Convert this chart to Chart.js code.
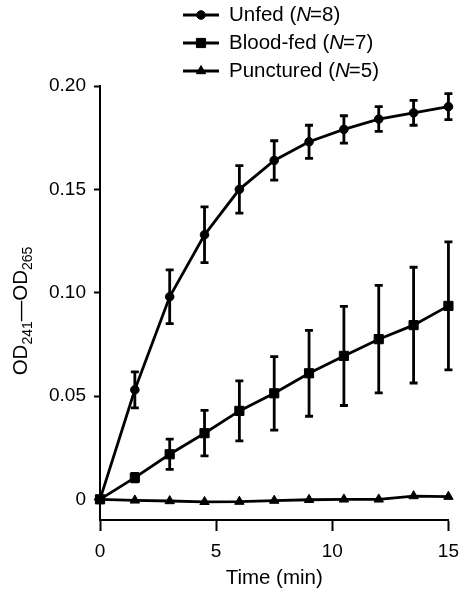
<!DOCTYPE html>
<html><head><meta charset="utf-8">
<script src="https://cdn.jsdelivr.net/npm/chart.js@4/dist/chart.umd.min.js"></script>
<style>html,body{margin:0;padding:0;background:#fff;}canvas{display:block;}</style>
</head><body>
<canvas id="c" width="468" height="594"></canvas>
<script>
const timeMin = [0, 1.5, 3, 4.5, 6, 7.5, 9, 10.5, 12, 13.5, 15];
const unfed = [0, 0.053, 0.098, 0.128, 0.150, 0.164, 0.173, 0.179, 0.184, 0.187, 0.190];
const unfedErr = [0, 0.0087, 0.013, 0.0135, 0.0115, 0.0095, 0.008, 0.0066, 0.006, 0.006, 0.0063];
const bloodFed = [0, 0.0105, 0.0218, 0.032, 0.0428, 0.0513, 0.061, 0.0694, 0.0775, 0.0843, 0.0936];
const bloodFedErr = [0, 0.002, 0.0073, 0.011, 0.0145, 0.0178, 0.0208, 0.024, 0.026, 0.028, 0.031];
const punctured = [0, -0.0005, -0.0008, -0.0012, -0.0011, -0.0006, -0.0002, 0, 0, 0.0016, 0.0013];
const seriesNames = ['Unfed', 'Blood-fed', 'Punctured'];
const seriesN = ['8', '7', '5'];
const xTicks = [0, 5, 10, 15];
const yTicks = [0, 0.05, 0.10, 0.15, 0.20];
const yTickLabels = ['0', '0.05', '0.10', '0.15', '0.20'];
const xTitle = 'Time (min)';
const yTitleParts = ['OD', '241', '\u2014', 'OD', '265'];

const FAMILY = '"Liberation Sans", Arial, Helvetica, sans-serif';
const styles = [
  {pointStyle: 'circle', radius: 4.3},
  {pointStyle: 'rect', radius: 6.5},
  {pointStyle: 'triangle', radius: 5.4}
];

const errPlugin = {
  id: 'errbars',
  afterDatasetsDraw(chart) {
    const ctx = chart.ctx, xs = chart.scales.x, ys = chart.scales.y;
    ctx.save();
    ctx.strokeStyle = '#000'; ctx.lineWidth = 2.8; ctx.lineCap = 'butt';
    [[unfed, unfedErr], [bloodFed, bloodFedErr]].forEach(([vals, errs]) => {
      vals.forEach((v, i) => {
        const e = errs[i]; if (!e) return;
        const px = xs.getPixelForValue(timeMin[i]);
        const top = ys.getPixelForValue(v + e), bot = ys.getPixelForValue(v - e);
        ctx.beginPath();
        ctx.moveTo(px, top); ctx.lineTo(px, bot);
        ctx.moveTo(px - 4, top); ctx.lineTo(px + 4, top);
        ctx.moveTo(px - 4, bot); ctx.lineTo(px + 4, bot);
        ctx.stroke();
      });
    });
    ctx.restore();
  }
};

const decorPlugin = {
  id: 'decor',
  afterDraw(chart) {
    const ctx = chart.ctx;
    ctx.save();
    ctx.fillStyle = '#000'; ctx.strokeStyle = '#000';
    const big = '20.5px ' + FAMILY, small = '14px ' + FAMILY;
    const parts = yTitleParts.map((t, i) => ({t, font: (i === 1 || i === 4) ? small : big, dy: (i === 1 || i === 4) ? 5 : 0}));
    let total = 0;
    parts.forEach(p => { ctx.font = p.font; p.w = ctx.measureText(p.t).width; total += p.w; });
    ctx.translate(27, 311);
    ctx.rotate(-Math.PI / 2);
    ctx.textBaseline = 'alphabetic'; ctx.textAlign = 'left';
    let x = -total / 2;
    parts.forEach(p => { ctx.font = p.font; ctx.fillText(p.t, x, p.dy); x += p.w; });
    ctx.restore();

    ctx.save();
    ctx.fillStyle = '#000'; ctx.strokeStyle = '#000';
    const rows = [15, 43, 71];
    seriesNames.forEach((name, i) => {
      const y = rows[i];
      ctx.lineWidth = 2.8;
      ctx.beginPath(); ctx.moveTo(183, y); ctx.lineTo(219, y); ctx.stroke();
      ctx.lineWidth = 1;
      Chart.helpers.drawPoint(ctx, {pointStyle: styles[i].pointStyle, radius: styles[i].radius, rotation: 0, borderWidth: 1}, 201, y);
      ctx.textBaseline = 'middle'; ctx.textAlign = 'left';
      let tx = 229;
      const seg = [[name + ' (', 'normal'], ['N', 'italic'], ['=' + seriesN[i] + ')', 'normal']];
      seg.forEach(([t, st]) => {
        ctx.font = (st === 'italic' ? 'italic ' : '') + '20.5px ' + FAMILY;
        ctx.fillText(t, tx, y);
        tx += ctx.measureText(t).width - (st === 'italic' ? 1 : 0);
      });
    });
    ctx.restore();
  }
};

const seriesVals = [unfed, bloodFed, punctured];
const datasets = seriesVals.map((vals, i) => ({
  label: seriesNames[i],
  data: timeMin.map((t, j) => ({x: t, y: vals[j]})),
  borderColor: '#000', borderWidth: 2.8,
  backgroundColor: '#000',
  pointStyle: styles[i].pointStyle, pointRadius: styles[i].radius,
  pointBackgroundColor: '#000', pointBorderColor: '#000', pointBorderWidth: 1,
  tension: 0, clip: false
}));

new Chart(document.getElementById('c'), {
  type: 'line',
  data: {datasets},
  options: {
    responsive: false, animation: false, devicePixelRatio: 1,
    layout: {padding: {left: 0, right: 12, top: 86, bottom: 0}},
    plugins: {legend: {display: false}, tooltip: {enabled: false}},
    scales: {
      x: {
        type: 'linear', min: 0, max: 15,
        afterBuildTicks: s => { s.ticks = xTicks.map(v => ({value: v})); },
        afterFit: s => { s.height = 74; },
        border: {color: '#000', width: 2},
        grid: {drawOnChartArea: false, tickLength: 11, tickWidth: 2, tickColor: '#000'},
        ticks: {color: '#000', font: {family: FAMILY, size: 19}, padding: 9, maxRotation: 0, autoSkip: false},
        title: {display: true, text: xTitle, color: '#000', font: {family: FAMILY, size: 20.5, lineHeight: 1.2}, padding: {top: 0, bottom: 3}}
      },
      y: {
        type: 'linear', min: -0.01, max: 0.2,
        afterBuildTicks: s => { s.ticks = yTicks.map(v => ({value: v})); },
        afterFit: s => { s.width = 100; },
        border: {color: '#000', width: 2},
        grid: {drawOnChartArea: false, tickLength: 6, tickWidth: 2, tickColor: '#000'},
        ticks: {color: '#000', font: {family: FAMILY, size: 19}, padding: 8, autoSkip: false,
          callback: (v, i) => yTickLabels[i]}
      }
    }
  },
  plugins: [errPlugin, decorPlugin]
});
</script>
</body></html>
